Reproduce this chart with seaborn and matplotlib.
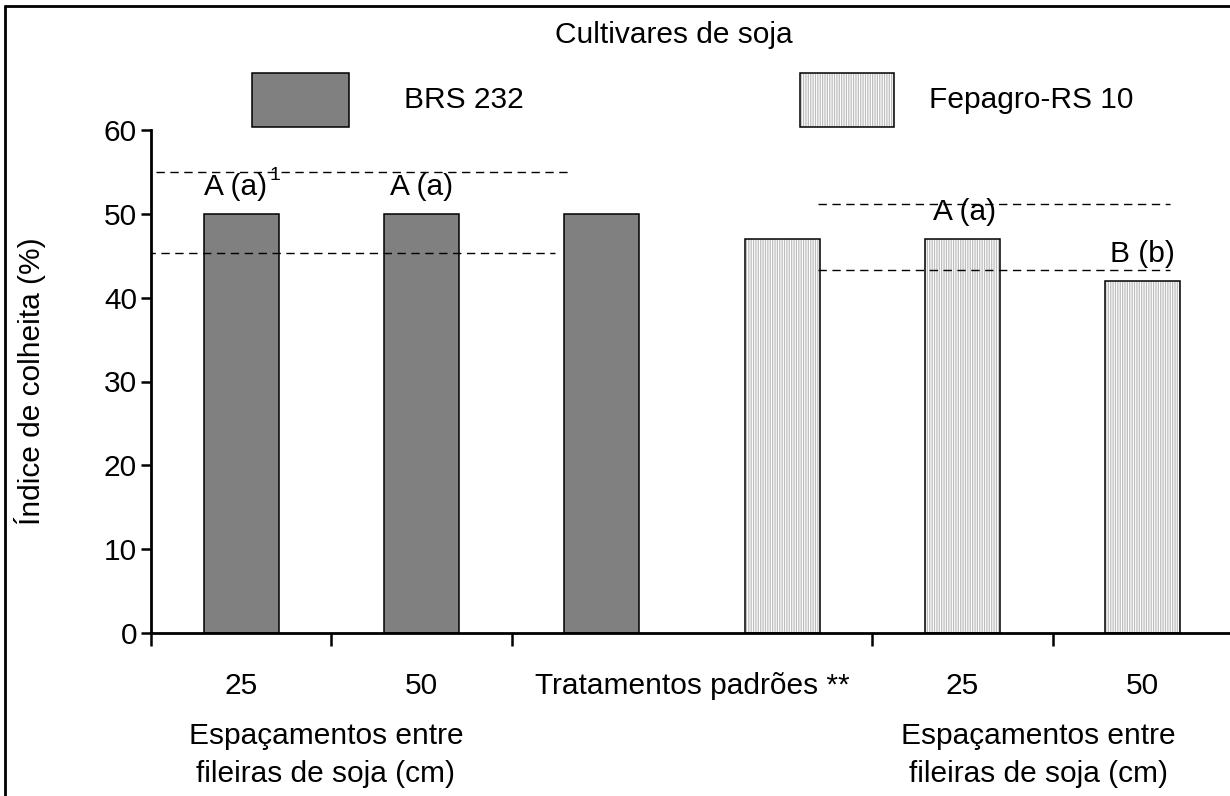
import numpy as np
import pandas as pd
import matplotlib
matplotlib.use("Agg")
import matplotlib.pyplot as plt
import matplotlib.transforms as mtransforms
from matplotlib.patches import Rectangle
from matplotlib.lines import Line2D
from matplotlib.colors import to_rgba
import seaborn as sns

# ---------------- data ----------------
cultivares = ["BRS 232", "BRS 232", "BRS 232", "Fepagro-RS 10", "Fepagro-RS 10", "Fepagro-RS 10"]
tratamento = ["25", "50", "Padrão", "Padrão", "25", "50"]
indice_colheita = [50, 50, 50, 47, 47, 42]
letras = ["A (a)", "A (a)", "", "", "A (a)", "B (b)"]
tick_labels = ["25", "50", "Tratamentos padrões **", "25", "50"]
faixa_brs = [45.3, 55.0]        # dashed reference lines (BRS 232)
faixa_fep = [43.3, 51.2]        # dashed reference lines (Fepagro-RS 10)
legend_title = "Cultivares de soja"
ylabel = "Índice de colheita (%)"
xlabel_lines = "Espaçamentos entre\nfileiras de soja (cm)"

# ---------------- style ----------------
sns.set_style("white")
plt.rcParams["font.family"] = ["Liberation Sans", "DejaVu Sans"]
plt.rcParams["hatch.linewidth"] = 0.9
for k in ["text.color", "axes.labelcolor", "xtick.color", "ytick.color",
          "axes.edgecolor"]:
    plt.rcParams[k] = "black"
FS = 21.5
W, H = 1230, 796

fig = plt.figure(figsize=(W / 100, H / 100), dpi=100)
ax = fig.add_axes([151 / W, 1 - 633 / H, (1233 - 151) / W, (633 - 130) / H])

df = pd.DataFrame({
    "pos": np.arange(len(indice_colheita)),
    "valor": indice_colheita,
    "cultivar": cultivares,
})
cor_brs = "#808080"
cor_fep = "#ffffff"
sns.barplot(data=df, x="pos", y="valor", hue="cultivar",
            palette={"BRS 232": cor_brs, "Fepagro-RS 10": cor_fep},
            dodge=False, width=0.415, edgecolor="black", linewidth=1.1,
            saturation=1, legend=False, ax=ax)

hatch_col = to_rgba("#bdbdbd")
for p in ax.patches:
    cx = p.get_x() + p.get_width() / 2
    if cx > 2.5:
        p.set_hatch("|" * 7)
        p._hatch_color = hatch_col

ax.set_xlim(-0.5, 5.5)
ax.set_ylim(0, 60)
ax.set_yticks(np.arange(0, 61, 10))
ax.tick_params(axis="y", labelsize=FS, length=7, width=1.8, direction="out",
               left=True, pad=3, colors="black")
ax.set_xticks([0, 1, 2.5, 4, 5])
ax.set_xticklabels(tick_labels)
ax.set_xticks(np.arange(-0.5, 6, 1), minor=True)
ax.tick_params(axis="x", which="major", length=0, labelsize=FS, pad=28,
               colors="black")
ax.tick_params(axis="x", which="minor", length=9, width=1.8, direction="out",
               bottom=True, colors="black")
ax.set_xlabel("")
ax.set_ylabel(ylabel, fontsize=FS, color="black")
ax.yaxis.set_label_coords(-0.097, 0.5)
for s in ["top", "right"]:
    ax.spines[s].set_visible(False)
for s in ["left", "bottom"]:
    ax.spines[s].set_linewidth(2.0)
    ax.spines[s].set_color("black")

# dashed reference lines
ax.hlines(faixa_brs, [-0.52, -0.47], [1.74, 1.82], colors="black",
          linestyles=(0, (6, 4)), linewidth=1.0)
ax.hlines(faixa_fep, 3.2, 5.15, colors="black",
          linestyles=(0, (6, 4)), linewidth=1.0)

# letters above bars
offs = [-0.03, 0.0, 0.0, 0.0, 0.01, 0.0]
for i, (v, t) in enumerate(zip(indice_colheita, letras)):
    if t:
        ax.text(i + offs[i], v + 3.2, t, ha="center", va="center", fontsize=FS,
                color="black")
ax.text(0.19, 54.6, "1", ha="center", va="center", fontsize=14, color="black")

# x-axis group labels
tr = mtransforms.blended_transform_factory(ax.transData, fig.transFigure)
for xc in [0.47, 4.42]:
    fig.text(xc, 1 - 755 / H, xlabel_lines, transform=tr, ha="center",
             va="center", fontsize=FS, linespacing=1.42, color="black")

# legend (manual, as in the original layout)
def fx(x):
    return x / W

def fy(y):
    return 1 - y / H

fig.text(fx(674), fy(35), legend_title, ha="center", va="center", fontsize=FS)
r1 = Rectangle((fx(252), fy(127)), fx(349) - fx(252), fy(73) - fy(127),
               transform=fig.transFigure, facecolor=cor_brs, edgecolor="black",
               linewidth=1.1)
r2 = Rectangle((fx(800), fy(127)), fx(894) - fx(800), fy(73) - fy(127),
               transform=fig.transFigure, facecolor=cor_fep, edgecolor="black",
               linewidth=1.1, hatch="|" * 7)
r2._hatch_color = hatch_col
fig.add_artist(r1)
fig.add_artist(r2)
fig.text(fx(404), fy(100), "BRS 232", ha="left", va="center", fontsize=FS)
fig.text(fx(929), fy(100), "Fepagro-RS 10", ha="left", va="center", fontsize=FS)

# outer frame (left and top edges visible)
fig.add_artist(Line2D([fx(5), fx(5)], [0, fy(6)], color="black", linewidth=2.0,
                      transform=fig.transFigure))
fig.add_artist(Line2D([fx(5), 1], [fy(6), fy(6)], color="black", linewidth=2.0,
                      transform=fig.transFigure))

fig.savefig("out.png", dpi=100)
